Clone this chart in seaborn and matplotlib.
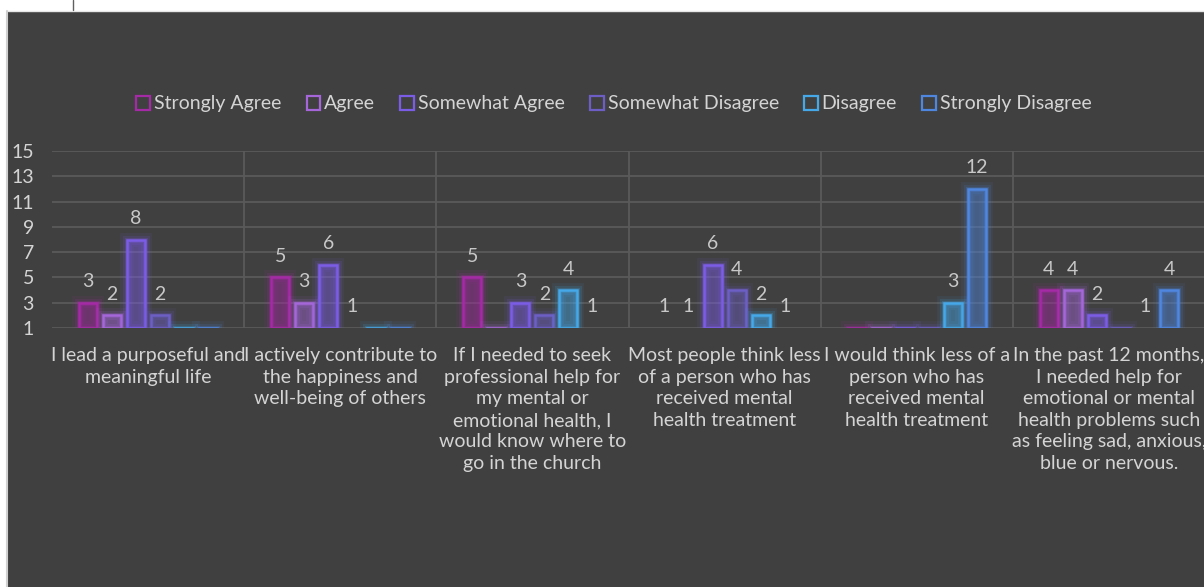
import matplotlib
matplotlib.use("Agg")
import matplotlib.pyplot as plt
import matplotlib.patheffects as pe
from matplotlib.patches import Rectangle, Patch
from matplotlib.lines import Line2D
from matplotlib.ticker import FixedLocator
import numpy as np
import pandas as pd
import seaborn as sns

# ---------------- data ----------------
categories = [
    "I lead a purposeful and\nmeaningful life",
    "I actively contribute to\nthe happiness and\nwell-being of others",
    "If I needed to seek\nprofessional help for\nmy mental or\nemotional health, I\nwould know where to\ngo in the church",
    "Most people think less\nof a person who has\nreceived mental\nhealth treatment",
    "I would think less of a\nperson who has\nreceived mental\nhealth treatment",
    "In the past 12 months,\nI needed help for\nemotional or mental\nhealth problems such\nas feeling sad, anxious,\nblue or nervous.",
]
series_names = ["Strongly Agree", "Agree", "Somewhat Agree",
                "Somewhat Disagree", "Disagree", "Strongly Disagree"]
strongly_agree    = [3, 5, 5, 1, 0, 4]
agree             = [2, 3, 0, 1, 0, 4]
somewhat_agree    = [8, 6, 3, 6, 0, 2]
somewhat_disagree = [2, 1, 2, 4, 0, 0]
disagree          = [0, 0, 4, 2, 3, 1]
strongly_disagree = [0, 0, 1, 1, 12, 4]
y_ticks = [1, 3, 5, 7, 9, 11, 13, 15]

series_values = [strongly_agree, agree, somewhat_agree,
                 somewhat_disagree, disagree, strongly_disagree]
colors = ["#A52AA6", "#A566DA", "#7B5CE6", "#6C5EC4", "#45A8E8", "#4F86E0"]

AXIS_BASE = 1  # the category axis crosses the value axis at 1

rows = []
for name, vals in zip(series_names, series_values):
    for cat, v in zip(categories, vals):
        rows.append({"category": cat, "series": name, "value": v})
df = pd.DataFrame(rows)
df["span"] = df["value"] - AXIS_BASE

# ---------------- style ----------------
BG = "#404040"
GRID = "#5A5A5A"
TXT = "#D4D4D4"
sns.set_style("dark")
plt.rcParams["font.family"] = ["Lato", "DejaVu Sans"]

fig = plt.figure(figsize=(12.04, 5.87), dpi=100, facecolor="white")
# dark chart area (white strip at top and left as in the screenshot)
fig.patches.append(Rectangle((8 / 1204, 0), 1 - 8 / 1204, (587 - 12) / 587,
                             transform=fig.transFigure, facecolor=BG,
                             edgecolor="none", zorder=-10))
fig.lines.append(Line2D([7 / 1204, 7 / 1204], [0, (587 - 11) / 587],
                        transform=fig.transFigure, color="#D0D0D0", lw=1.5,
                        zorder=-9))
fig.lines.append(Line2D([8 / 1204, 1], [(587 - 11) / 587, (587 - 11) / 587],
                        transform=fig.transFigure, color="#E6E6E6", lw=1,
                        zorder=-9))
fig.lines.append(Line2D([73 / 1204, 73 / 1204], [(587 - 10) / 587, 1],
                        transform=fig.transFigure, color="#606060", lw=1,
                        zorder=-9))

ax = fig.add_axes([52 / 1204, 1 - 328 / 587, 1153 / 1204, (328 - 151) / 587])
ax.set_facecolor("none")

sns.barplot(data=df, x="category", y="span", hue="series",
            hue_order=series_names, order=categories,
            palette=colors, fill=False, width=0.75, gap=0.25,
            linewidth=1.8, bottom=AXIS_BASE, legend=False, ax=ax,
            errorbar=None)

ax.set_ylim(1, 15)
ax.set_xlim(-0.5, len(categories) - 0.5)
ax.yaxis.set_major_locator(FixedLocator(y_ticks))
ax.set_yticklabels([str(t) for t in y_ticks])

# glow + labels
for cont, col, vals in zip(ax.containers, colors, series_values):
    for patch, v in zip(cont.patches, vals):
        patch.set_facecolor(matplotlib.colors.to_rgba(col, 0.06))
        if v == AXIS_BASE:
            patch.set_linewidth(0)
            patch.set_facecolor("none")
        else:
            patch.set_path_effects([
                pe.Stroke(linewidth=10, foreground=col, alpha=0.08),
                pe.Stroke(linewidth=6.5, foreground=col, alpha=0.14),
                pe.Stroke(linewidth=3.5, foreground=col, alpha=0.25),
                pe.Normal()])
    ax.bar_label(cont, labels=[str(v) if v > 0 else "" for v in vals],
                 padding=9, color="#C8C8C8", fontsize=14)

# grids
ax.set_xticks(np.arange(0.5, len(categories) - 1, 1), minor=True)
ax.grid(axis="y", which="major", color=GRID, lw=1.3)
ax.grid(axis="x", which="minor", color=GRID, lw=1.3)
ax.grid(axis="x", which="major", visible=False)
ax.set_axisbelow(True)
for s in ax.spines.values():
    s.set_visible(False)

ax.tick_params(axis="y", length=0, pad=13, labelsize=14, labelcolor=TXT)
ax.tick_params(axis="x", which="both", length=0, pad=14, labelsize=14,
               labelcolor=TXT)
for lab in ax.get_yticklabels():
    lab.set_horizontalalignment("right")
ax.set_xlabel("")
ax.set_ylabel("")
for lab in ax.get_xticklabels():
    lab.set_linespacing(1.32)

handles = [Patch(facecolor="none", edgecolor=c, linewidth=1.6, label=n)
           for c, n in zip(colors, series_names)]
fig.legend(handles=handles, loc="center", bbox_to_anchor=(614 / 1204, 1 - 104 / 587),
           ncol=6, frameon=False, fontsize=14, labelcolor=TXT,
           handlelength=0.7, handleheight=0.7, handletextpad=0.2,
           columnspacing=1.3)

fig.savefig("out.png", dpi=100, facecolor=fig.get_facecolor())
